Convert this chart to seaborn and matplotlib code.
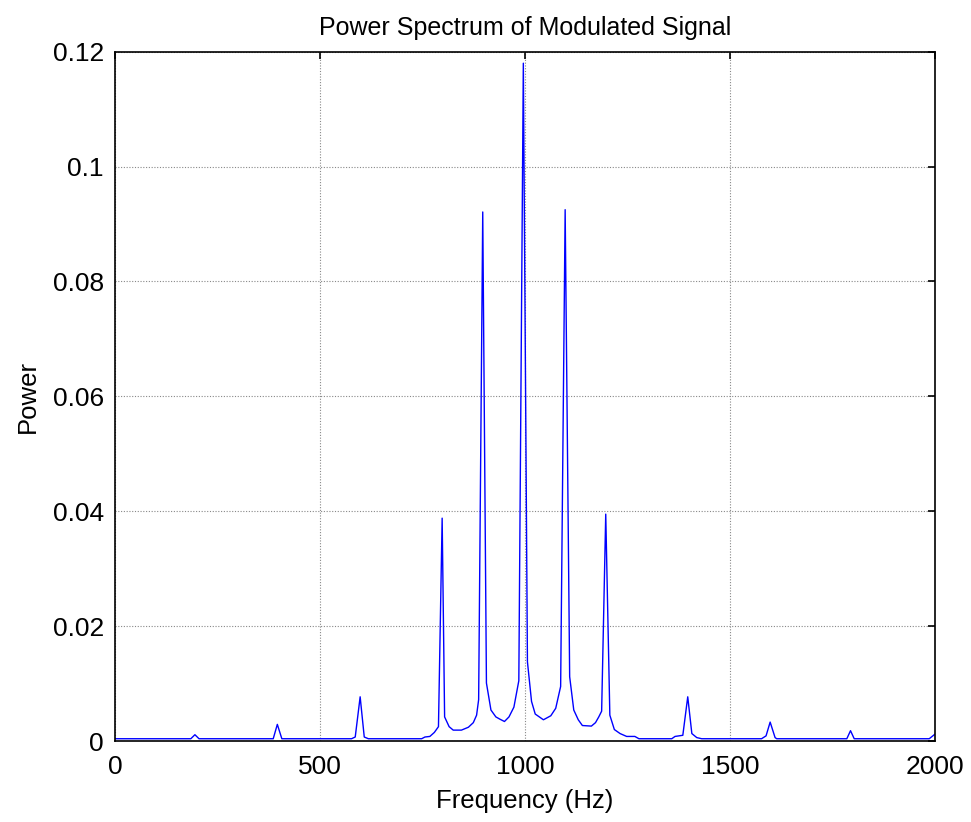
import matplotlib
matplotlib.use("Agg")
import matplotlib.pyplot as plt
import seaborn as sns
import pandas as pd

sns.set_style("white")
plt.rcParams["font.family"] = ["Liberation Sans", "DejaVu Sans"]
plt.rcParams["text.color"] = "black"
plt.rcParams["axes.labelcolor"] = "black"

# values (breakpoints of the spectrum line)
freq_hz = [
    0, 185, 195, 205, 386, 396, 407, 577, 586, 598, 608, 618,
    748, 756, 768, 779, 789, 798, 804, 815, 825, 845, 862, 874, 882, 887,
    897, 906, 917, 929, 939, 950, 961, 973, 985, 996, 1006, 1016, 1025,
    1045, 1063, 1075, 1087, 1098, 1109, 1119, 1130, 1140, 1162, 1172,
    1180, 1187, 1197, 1207, 1218, 1232, 1248, 1268, 1278, 1358, 1366,
    1385, 1397, 1407, 1419, 1431, 1577, 1588, 1598, 1610, 1614, 1785,
    1794, 1803, 1986, 2000,
]
power = [
    0.0004, 0.0004, 0.0011, 0.0004, 0.0004, 0.0029, 0.0004, 0.0004, 0.0007, 0.0077, 0.0007, 0.0004,
    0.0004, 0.0007, 0.0008, 0.0015, 0.0025, 0.0388, 0.0042, 0.0025, 0.0019, 0.0019, 0.0024, 0.0032, 0.0045, 0.0072,
    0.0921, 0.0101, 0.0054, 0.0042, 0.0038, 0.0034, 0.0042, 0.0059, 0.0105, 0.1180, 0.0138, 0.0069, 0.0047,
    0.0037, 0.0044, 0.0057, 0.0095, 0.0925, 0.0112, 0.0054, 0.0037, 0.0027, 0.0026, 0.0032,
    0.0042, 0.0052, 0.0395, 0.0045, 0.0020, 0.0013, 0.0008, 0.0008, 0.0004, 0.0004, 0.0008,
    0.0010, 0.0077, 0.0013, 0.0006, 0.0004, 0.0004, 0.0009, 0.0033, 0.0006, 0.0004, 0.0004,
    0.0018, 0.0004, 0.0004, 0.0012,
]
x_ticks = [0, 500, 1000, 1500, 2000]
y_ticks = [0, 0.02, 0.04, 0.06, 0.08, 0.1, 0.12]
y_tick_labels = ["0", "0.02", "0.04", "0.06", "0.08", "0.1", "0.12"]

df = pd.DataFrame({"freq": freq_hz, "power": power})

fig = plt.figure(figsize=(9.71, 8.22), dpi=100)
ax = fig.add_axes([0.1184, 0.0985, 0.8445, 0.8386])

sns.lineplot(data=df, x="freq", y="power", ax=ax, color="#0000ff",
             linewidth=1.0, estimator=None, sort=False)

ax.set_xlim(0, 2000)
ax.set_ylim(0, 0.12)
ax.set_xticks(x_ticks)
ax.set_xticklabels([str(t) for t in x_ticks])
ax.set_yticks(y_ticks)
ax.set_yticklabels(y_tick_labels)

ax.grid(True, color="#888888", linestyle=(0, (1, 1.5)), linewidth=0.8)
ax.set_axisbelow(True)

for s in ax.spines.values():
    s.set_color("black")
    s.set_linewidth(1.2)

ax.tick_params(axis="both", which="major", direction="in", length=5, width=1.2,
               top=True, right=True, labelsize=19, colors="black")
ax.tick_params(axis="x", pad=10)
ax.tick_params(axis="y", pad=8)

ax.set_xlabel("Frequency (Hz)", fontsize=18.5, labelpad=7)
ax.set_ylabel("Power", fontsize=18.5, labelpad=9)
ax.set_title("Power Spectrum of Modulated Signal", fontsize=18, pad=12)

fig.savefig("out.png", dpi=100, facecolor="white")
